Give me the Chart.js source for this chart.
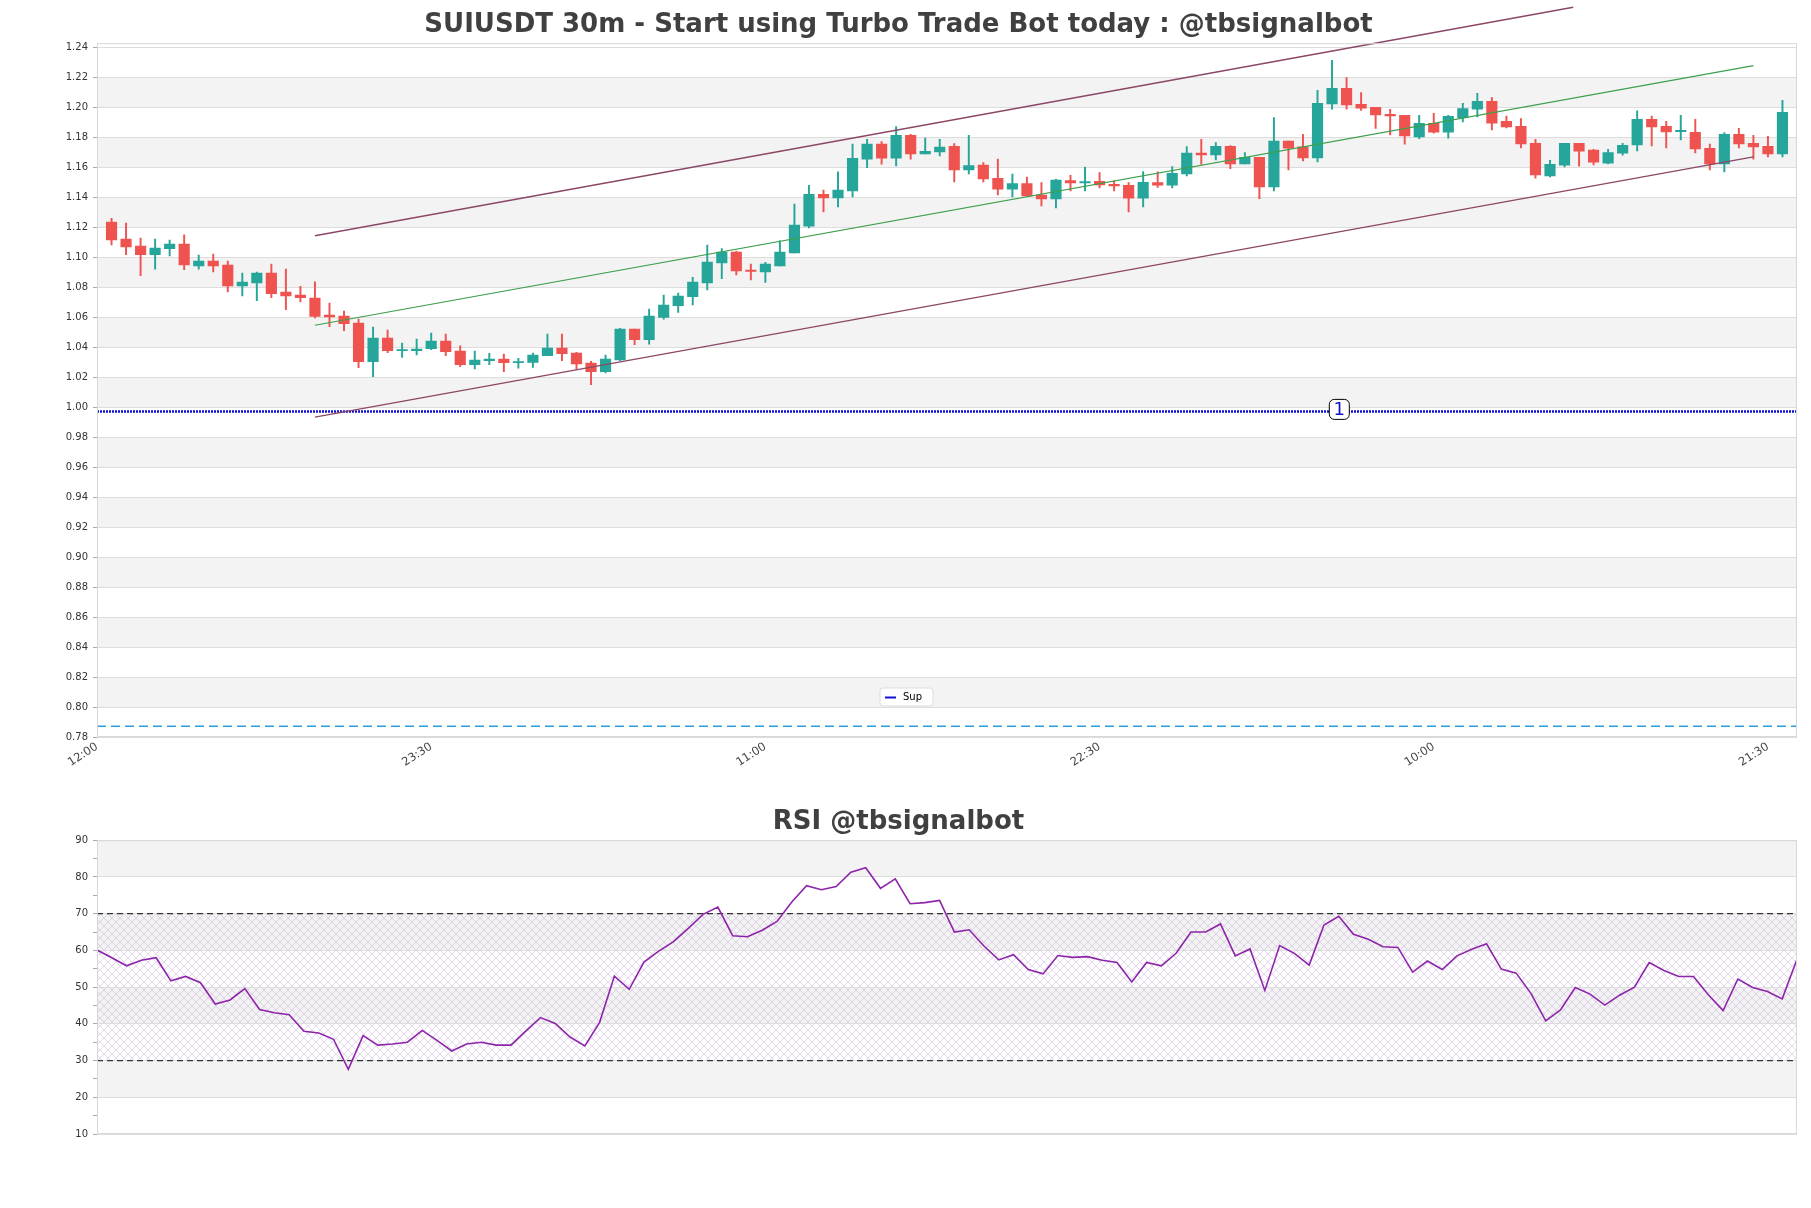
<!DOCTYPE html>
<html>
<head>
<meta charset="utf-8">
<title>SUIUSDT 30m</title>
<script src="https://cdn.jsdelivr.net/npm/chart.js@4.4.1/dist/chart.umd.min.js"></script>
<style>
    body { margin: 0; background: #fff; }
    #wrap { position: relative; width: 1811px; height: 1208px; }
    canvas { position: absolute; left: 0; }
    #prix { top: 0; }
    #rsi { top: 790px; }
</style>
</head>
<body>
<div id="wrap">
    <canvas id="prix" width="1811" height="790"></canvas>
    <canvas id="rsi" width="1811" height="418"></canvas>
</div>
<script>
/********************************* ********************************/
/*************************** Données ******************************/
/******************************** *********************************/

// Bougies 30m (ouverture, plus haut, plus bas, clôture)
const opens = [1.1236,1.1122,1.1076,1.1018,1.1058,1.1089,1.0944,1.0976,1.0949,1.0811,
    1.0831,1.0896,1.0769,1.0749,1.0729,1.0616,1.0609,1.0562,1.0304,1.0462,
    1.0378,1.0378,1.0391,1.0442,1.0376,1.0284,1.0311,1.0322,1.0298,1.0300,
    1.0344,1.0396,1.0362,1.0296,1.0238,1.0316,1.0522,1.0451,1.0600,1.0678,
    1.0738,1.0831,1.0964,1.1036,1.0916,1.0904,1.0944,1.1031,1.1209,1.1422,
    1.1398,1.1444,1.1656,1.1756,1.1662,1.1816,1.1691,1.1704,1.1742,1.1584,
    1.1616,1.1529,1.1456,1.1493,1.1416,1.1391,1.1513,1.1498,1.1509,1.1489,
    1.1482,1.1396,1.1500,1.1482,1.1558,1.1696,1.1684,1.1742,1.1624,1.1669,
    1.1471,1.1776,1.1738,1.1664,1.2024,1.2129,1.2022,1.2002,1.1956,1.1949,
    1.1804,1.1896,1.1836,1.1933,1.1989,1.2042,1.1909,1.1876,1.1762,1.1544,
    1.1616,1.1762,1.1716,1.1629,1.1696,1.1751,1.1922,1.1876,1.1840,1.1836,
    1.1729,1.1624,1.1822,1.1762,1.1742,1.1691];
const highs = [1.1262,1.1229,1.1129,1.1122,1.1116,1.1151,1.1016,1.1022,1.0976,1.0896,
    1.0902,1.0956,1.0922,1.0807,1.0838,1.0696,1.0642,1.0589,1.0536,1.0516,
    1.0429,1.0456,1.0496,1.0489,1.0411,1.0376,1.0360,1.0356,1.0327,1.0362,
    1.0489,1.0489,1.0367,1.0307,1.0349,1.0527,1.0522,1.0656,1.0749,1.0762,
    1.0867,1.1082,1.1060,1.1042,1.0956,1.0967,1.1111,1.1356,1.1482,1.1449,
    1.1571,1.1756,1.1789,1.1773,1.1873,1.1822,1.1796,1.1789,1.1760,1.1816,
    1.1633,1.1656,1.1556,1.1536,1.1500,1.1522,1.1549,1.1604,1.1567,1.1511,
    1.1500,1.1573,1.1571,1.1607,1.1740,1.1789,1.1767,1.1747,1.1700,1.1669,
    1.1933,1.1776,1.1822,1.2116,1.2316,1.2200,1.2100,1.2002,1.1989,1.1949,
    1.1949,1.1962,1.1949,1.2029,1.2096,1.2067,1.1944,1.1927,1.1789,1.1649,
    1.1762,1.1762,1.1722,1.1722,1.1762,1.1978,1.1944,1.1909,1.1949,1.1922,
    1.1756,1.1833,1.1862,1.1816,1.1809,1.2049];
const lows = [1.1084,1.1018,1.0878,1.0922,1.1011,1.0918,1.0922,1.0904,1.0771,1.0744,
    1.0711,1.0731,1.0651,1.0704,1.0596,1.0538,1.0511,1.0264,1.0204,1.0364,
    1.0333,1.0349,1.0384,1.0344,1.0271,1.0256,1.0284,1.0238,1.0262,1.0267,
    1.0344,1.0311,1.0256,1.0151,1.0229,1.0311,1.0418,1.0422,1.0589,1.0633,
    1.0684,1.0784,1.0858,1.0884,1.0851,1.0833,1.0944,1.1031,1.1198,1.1304,
    1.1338,1.1404,1.1600,1.1622,1.1611,1.1656,1.1691,1.1678,1.1504,1.1558,
    1.1504,1.1418,1.1404,1.1407,1.1344,1.1331,1.1444,1.1444,1.1464,1.1444,
    1.1304,1.1338,1.1467,1.1464,1.1544,1.1622,1.1651,1.1593,1.1624,1.1393,
    1.1444,1.1584,1.1644,1.1638,1.1989,1.1989,1.1982,1.1862,1.1818,1.1756,
    1.1793,1.1829,1.1796,1.1904,1.1938,1.1851,1.1864,1.1731,1.1529,1.1538,
    1.1604,1.1609,1.1618,1.1624,1.1682,1.1711,1.1744,1.1731,1.1784,1.1698,
    1.1584,1.1571,1.1731,1.1656,1.1671,1.1671];
const closes = [1.1118,1.1071,1.1018,1.1062,1.1089,1.0951,1.0976,1.0944,1.0811,1.0836,
    1.0896,1.0758,1.0744,1.0731,1.0607,1.0604,1.0558,1.0304,1.0462,1.0378,
    1.0382,1.0389,1.0442,1.0371,1.0284,1.0316,1.0322,1.0298,1.0300,1.0349,
    1.0396,1.0358,1.0289,1.0238,1.0322,1.0522,1.0451,1.0609,1.0682,1.0742,
    1.0836,1.0969,1.1036,1.0911,1.0907,1.0956,1.1036,1.1216,1.1422,1.1398,
    1.1449,1.1662,1.1756,1.1662,1.1816,1.1691,1.1709,1.1736,1.1584,1.1613,
    1.1524,1.1456,1.1493,1.1411,1.1391,1.1516,1.1498,1.1507,1.1484,1.1478,
    1.1396,1.1502,1.1482,1.1562,1.1696,1.1684,1.1742,1.1624,1.1669,1.1471,
    1.1776,1.1729,1.1664,1.2029,1.2129,1.2018,1.1996,1.1951,1.1944,1.1811,
    1.1896,1.1836,1.1942,1.1993,1.2042,1.1896,1.1871,1.1758,1.1551,1.1622,
    1.1762,1.1709,1.1636,1.1700,1.1749,1.1922,1.1871,1.1838,1.1844,1.1724,
    1.1624,1.1822,1.1758,1.1738,1.1691,1.1969];

// RSI, un point par bougie
const rsiValues = [60.1,58.0,55.8,57.3,58.0,51.7,52.9,51.2,45.4,46.5,
    49.6,43.9,43.0,42.5,38.0,37.5,35.8,27.6,36.8,34.2,
    34.5,35.0,38.2,35.5,32.6,34.5,35.0,34.2,34.2,38.0,
    41.7,40.1,36.4,34.0,40.4,53.0,49.4,56.8,59.8,62.4,
    66.0,69.8,71.8,64.0,63.7,65.5,67.9,73.2,77.6,76.5,
    77.4,81.3,82.5,76.9,79.5,72.7,73.0,73.6,65.0,65.6,
    61.2,57.4,58.8,54.8,53.6,58.6,58.1,58.3,57.3,56.7,
    51.4,56.7,55.8,59.2,65.0,65.0,67.2,58.5,60.4,49.1,
    61.3,59.2,56.0,66.9,69.3,64.4,63.0,61.0,60.8,54.1,
    57.1,54.8,58.5,60.3,61.8,54.9,53.8,48.3,40.8,43.8,
    49.9,48.1,45.1,47.8,50.0,56.7,54.5,52.9,52.9,47.9,
    43.6,52.2,49.9,48.8,46.8,57.6];

// Axe des temps (index de bougie -> heure)
const tickIndex = [-1, 22, 45, 68, 91, 114];
const tickLabels = ['12:00', '23:30', '11:00', '22:30', '10:00', '21:30'];

// Graduations des deux axes Y
const priceTicks = [0.78,0.80,0.82,0.84,0.86,0.88,0.90,0.92,0.94,0.96,0.98,1.00,
    1.02,1.04,1.06,1.08,1.10,1.12,1.14,1.16,1.18,1.20,1.22,1.24];
const rsiTicks = [10, 20, 30, 40, 50, 60, 70, 80, 90];

// Canal de tendance [index, prix]
const canalHaut = [[14, 1.1145], [100.6, 1.2670]];
const canalMilieu = [[14, 1.0548], [113, 1.2280]];
const canalBas = [[14, 0.9935], [113, 1.1672]];

// Niveaux horizontaux
const supLevel = 0.9973;
const basLevel = 0.7872;
const supLabelIndex = 84.5;
const rsiHaut = 70;
const rsiBas = 30;

const TITRE = 'SUIUSDT 30m - Start using Turbo Trade Bot today : @tbsignalbot';
const TITRE_RSI = 'RSI @tbsignalbot';

/********************************* ********************************/
/*************************** Plugins ******************************/
/******************************** *********************************/

Chart.defaults.font.family = '"DejaVu Sans", sans-serif';

// Bandes grises alternées + bordure de la zone de tracé
const fondBandes = {
    id: 'fondBandes',
    beforeDraw(chart, args, opts) {
        const { ctx, chartArea: a, scales: { y } } = chart;
        const t = opts.ticks;
        ctx.save();
        ctx.fillStyle = '#f3f3f3';
        for (let i = 1; i + 1 < t.length; i += 2) {
            const y1 = y.getPixelForValue(t[i + 1]);
            const y2 = y.getPixelForValue(t[i]);
            ctx.fillRect(a.left, y1, a.right - a.left, y2 - y1);
        }
        if (opts.hachure) {
            const y1 = y.getPixelForValue(opts.hachure[1]);
            const y2 = y.getPixelForValue(opts.hachure[0]);
            ctx.fillStyle = motifHachure(ctx);
            ctx.fillRect(a.left, y1, a.right - a.left, y2 - y1);
        }
        ctx.restore();
    },
    afterDraw(chart) {
        const { ctx, chartArea: a } = chart;
        ctx.save();
        ctx.strokeStyle = '#d8d8d8';
        ctx.lineWidth = 1;
        ctx.strokeRect(a.left + 0.5, a.top + 0.5, a.right - a.left - 1, a.bottom - a.top - 1);
        ctx.restore();
    }
};

// Motif croisé violet pâle pour la zone 30-70 du RSI
function motifHachure(ctx) {
    const c = document.createElement('canvas');
    c.width = 8;
    c.height = 8;
    const g = c.getContext('2d');
    g.strokeStyle = 'rgba(180,145,205,0.5)';
    g.lineWidth = 0.7;
    g.beginPath();
    g.moveTo(0, 0); g.lineTo(8, 8);
    g.moveTo(8, 0); g.lineTo(0, 8);
    g.stroke();
    return ctx.createPattern(c, 'repeat');
}

// Étiquette "1" sur le support et petite légende "Sup"
const annotations = {
    id: 'annotations',
    afterDraw(chart) {
        const { ctx, chartArea: a, scales: { x, y } } = chart;
        ctx.save();
        // boîte "1"
        const px = x.getPixelForValue(supLabelIndex);
        const py = y.getPixelForValue(supLevel) - 2;
        ctx.beginPath();
        ctx.roundRect(px - 10, py - 10, 20, 20, 5);
        ctx.fillStyle = '#ffffff';
        ctx.fill();
        ctx.strokeStyle = '#000000';
        ctx.lineWidth = 1;
        ctx.stroke();
        ctx.fillStyle = '#1010d0';
        ctx.font = '18px "DejaVu Sans"';
        ctx.textAlign = 'center';
        ctx.textBaseline = 'middle';
        ctx.fillText('1', px, py + 1);
        // légende
        const lx = a.left + 783, ly = a.bottom - 49;
        ctx.beginPath();
        ctx.roundRect(lx, ly, 53, 18, 3);
        ctx.fillStyle = 'rgba(255,255,255,0.9)';
        ctx.fill();
        ctx.strokeStyle = '#dddddd';
        ctx.stroke();
        ctx.beginPath();
        ctx.moveTo(lx + 5, ly + 9.5);
        ctx.lineTo(lx + 16, ly + 9.5);
        ctx.strokeStyle = '#1010d0';
        ctx.lineWidth = 2;
        ctx.stroke();
        ctx.fillStyle = '#000000';
        ctx.font = '10px "DejaVu Sans"';
        ctx.textAlign = 'left';
        ctx.fillText('Sup', lx + 23, ly + 9.5);
        ctx.restore();
    }
};

/********************************* ********************************/
/************************* Graphique prix *************************/
/******************************** *********************************/

const couleurs = closes.map((c, i) => (c >= opens[i] ? '#26a69a' : '#ef5350'));
const segment = pts => pts.map(p => ({ x: p[0], y: p[1] }));

new Chart(document.getElementById('prix'), {
    type: 'bar',
    data: {
        datasets: [
            { type: 'line', label: 'Canal haut', data: segment(canalHaut), borderColor: '#8c4766', borderWidth: 1.3, pointRadius: 0, clip: false, order: 0 },
            { type: 'line', label: 'Canal milieu', data: segment(canalMilieu), borderColor: '#3c9f4c', borderWidth: 1.2, pointRadius: 0, order: 0 },
            { type: 'line', label: 'Canal bas', data: segment(canalBas), borderColor: '#8c4766', borderWidth: 1.3, pointRadius: 0, order: 0 },
            { type: 'line', label: 'Sup', data: [{ x: -1, y: supLevel }, { x: 116, y: supLevel }], borderColor: '#1010d0', borderWidth: 2.5, borderDash: [2, 1], pointRadius: 0, order: 0 },
            { type: 'line', label: 'Bas', data: [{ x: -1, y: basLevel }, { x: 116, y: basLevel }], borderColor: '#2b9fd8', borderWidth: 1.4, borderDash: [9, 5], pointRadius: 0, order: 0 },
            { label: 'Mèches', data: closes.map((c, i) => ({ x: i, y: [lows[i], highs[i]] })), backgroundColor: couleurs, barThickness: 1.3, grouped: false, order: 2 },
            { label: 'Corps', data: closes.map((c, i) => ({ x: i, y: [opens[i], c] })), backgroundColor: couleurs, barThickness: 10.5, minBarLength: 1.2, grouped: false, order: 1 }
        ]
    },
    options: {
        responsive: false,
        animation: false,
        layout: { padding: { left: 0, right: 14, top: 0, bottom: 0 } },
        scales: {
            x: {
                type: 'linear', min: -1, max: 116, offset: false,
                grid: { display: false, drawTicks: false },
                border: { display: false },
                afterBuildTicks: s => { s.ticks = tickIndex.map(v => ({ value: v })); },
                afterFit: s => { s.height = 53; },
                ticks: {
                    autoSkip: false, minRotation: 33, maxRotation: 33, padding: 3,
                    color: '#444', font: { size: 11.5 },
                    callback: v => tickLabels[tickIndex.indexOf(v)] ?? ''
                }
            },
            y: {
                min: 0.78, max: 1.243,
                border: { display: false },
                grid: { color: '#dddddd', tickLength: 4, tickColor: '#aaaaaa' },
                afterBuildTicks: s => { s.ticks = priceTicks.map(v => ({ value: v })); },
                afterFit: s => { s.width = 97; },
                ticks: { color: '#333', font: { size: 10 }, padding: 5, callback: v => v.toFixed(2) }
            }
        },
        plugins: {
            legend: { display: false },
            tooltip: { enabled: false },
            title: { display: true, text: TITRE, color: '#404040', font: { size: 26, weight: 'bold' }, padding: { top: 10, bottom: 2 } },
            fondBandes: { ticks: priceTicks }
        }
    },
    plugins: [fondBandes, annotations]
});

/********************************* ********************************/
/************************** Graphique RSI *************************/
/******************************** *********************************/

new Chart(document.getElementById('rsi'), {
    type: 'line',
    data: {
        datasets: [
            { label: 'RSI', data: rsiValues.map((v, i) => ({ x: i, y: v })), borderColor: '#8e24aa', borderWidth: 1.6, pointRadius: 0, tension: 0 },
            { label: 'Surachat', data: [{ x: 0, y: rsiHaut }, { x: 115, y: rsiHaut }], borderColor: '#333', borderWidth: 1.3, borderDash: [6, 4], pointRadius: 0 },
            { label: 'Survente', data: [{ x: 0, y: rsiBas }, { x: 115, y: rsiBas }], borderColor: '#333', borderWidth: 1.3, borderDash: [6, 4], pointRadius: 0 }
        ]
    },
    options: {
        responsive: false,
        animation: false,
        layout: { padding: { left: 0, right: 14, top: 0, bottom: 74 } },
        scales: {
            x: { type: 'linear', min: 0, max: 115, display: false },
            y: {
                min: 10, max: 90,
                border: { display: false },
                grid: {
                    color: c => (c.tick && c.tick.value % 10 === 0 ? '#dddddd' : 'rgba(0,0,0,0)'),
                    tickLength: 4, tickColor: '#aaaaaa'
                },
                afterFit: s => { s.width = 97; },
                ticks: { stepSize: 5, autoSkip: false, color: '#333', font: { size: 10 }, padding: 5, callback: v => (v % 10 === 0 ? v : '') }
            }
        },
        plugins: {
            legend: { display: false },
            tooltip: { enabled: false },
            title: { display: true, text: TITRE_RSI, color: '#404040', font: { size: 26, weight: 'bold' }, padding: { top: 17, bottom: 2 } },
            fondBandes: { ticks: rsiTicks, hachure: [rsiBas, rsiHaut] }
        }
    },
    plugins: [fondBandes]
});
</script>
</body>
</html>
